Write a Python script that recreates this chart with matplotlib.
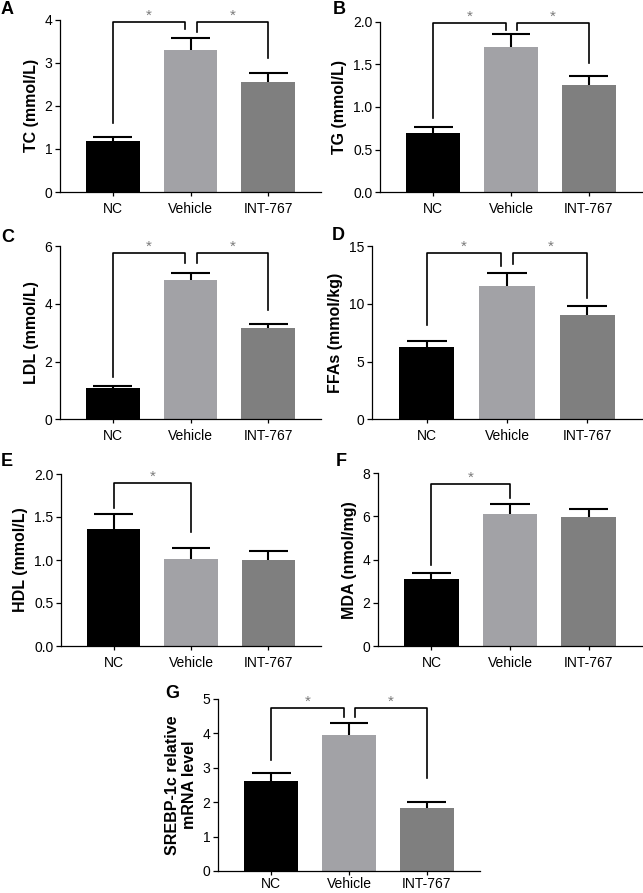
import matplotlib
matplotlib.use("Agg")
import matplotlib.pyplot as plt

plt.rcParams['font.family'] = ['Liberation Sans', 'DejaVu Sans']

W, H = 643, 893

groups = ["NC", "Vehicle", "INT-767"]
bar_colors = ["#000000", "#a2a2a6", "#7f7f7f"]

tc_mean = [1.18, 3.30, 2.55]
tc_err = [0.09, 0.27, 0.20]
tg_mean = [0.70, 1.70, 1.26]
tg_err = [0.06, 0.16, 0.10]
ldl_mean = [1.09, 4.82, 3.15]
ldl_err = [0.08, 0.25, 0.16]
ffa_mean = [6.23, 11.57, 9.06]
ffa_err = [0.52, 1.12, 0.75]
hdl_mean = [1.36, 1.015, 1.00]
hdl_err = [0.18, 0.125, 0.11]
mda_mean = [3.09, 6.10, 5.96]
mda_err = [0.28, 0.46, 0.39]
srebp_mean = [2.61, 3.96, 1.83]
srebp_err = [0.24, 0.34, 0.17]

# brackets: (left group, right group, top y, left leg y, right leg y)
tc_brackets = [(0, 1, 3.95, 1.60, 3.77), (1, 2, 3.95, 3.72, 3.10)]
tg_brackets = [(0, 1, 1.99, 0.87, 1.90), (1, 2, 1.99, 1.90, 1.51)]
ldl_brackets = [(0, 1, 5.77, 1.45, 5.40), (1, 2, 5.77, 5.40, 3.78)]
ffa_brackets = [(0, 1, 14.36, 8.16, 13.27), (1, 2, 14.36, 13.40, 10.47)]
hdl_brackets = [(0, 1, 1.90, 1.61, 1.33)]
mda_brackets = [(0, 1, 7.50, 3.75, 6.87)]
srebp_brackets = [(0, 1, 4.74, 3.24, 4.47), (1, 2, 4.74, 4.47, 2.70)]


def make_axes(fig, left, right, top, bottom):
    return fig.add_axes([left / W, 1 - bottom / H, (right - left) / W, (bottom - top) / H])


def draw_panel(ax, means, errs, ylabel, yticks, yfmt, brackets, xpad=4):
    x = list(range(len(groups)))
    ax.bar(x, means, width=0.69, color=bar_colors, zorder=2)
    # upper error bars only (stem + cap)
    tops = [m + e for m, e in zip(means, errs)]
    ax.vlines(x, means, tops, color='black', lw=1.5, zorder=3)
    ax.hlines(tops, [i - 0.25 for i in x], [i + 0.25 for i in x], color='black', lw=1.5, zorder=3)
    ax.set_xlim(-0.68, 2.68)
    ax.set_ylim(yticks[0], yticks[-1])
    ax.set_yticks(yticks)
    ax.set_yticklabels([yfmt.format(t) for t in yticks])
    ax.set_xticks(x)
    ax.set_xticklabels(groups)
    ax.set_ylabel(ylabel, fontsize=11.5, fontweight='bold', labelpad=4)
    for s in ['top', 'right']:
        ax.spines[s].set_visible(False)
    for s in ['left', 'bottom']:
        ax.spines[s].set_linewidth(0.9)
    ax.tick_params(axis='both', labelsize=10, width=0.9, length=3.5, pad=2)
    ax.tick_params(axis='x', length=3, pad=xpad)

    shared = len(brackets) > 1
    for i, j, ytop, yl, yr in brackets:
        xl, xr = float(i), float(j)
        if shared and j == 1:
            xr -= 0.07
        if shared and i == 1:
            xl += 0.08
        ax.plot([xl, xl, xr, xr], [yl, ytop, ytop, yr], color='black', lw=1.2,
                clip_on=False, zorder=4)
        ax.annotate('*', xy=((xl + xr) / 2, ytop), xytext=(0, 4.5), textcoords='offset points',
                    ha='center', va='center', fontsize=11, color='#7a7a7a',
                    annotation_clip=False)


fig = plt.figure(figsize=(W / 100, H / 100), dpi=100)

ax_a = make_axes(fig, 60, 321, 19.5, 192)
draw_panel(ax_a, tc_mean, tc_err, "TC (mmol/L)", [0, 1, 2, 3, 4], "{:.0f}", tc_brackets)
ax_b = make_axes(fig, 380, 642, 21.7, 192.3)
draw_panel(ax_b, tg_mean, tg_err, "TG (mmol/L)", [0.0, 0.5, 1.0, 1.5, 2.0], "{:.1f}", tg_brackets)
ax_c = make_axes(fig, 60, 321, 246, 419.3)
draw_panel(ax_c, ldl_mean, ldl_err, "LDL (mmol/L)", [0, 2, 4, 6], "{:.0f}", ldl_brackets)
ax_d = make_axes(fig, 372, 642, 246, 419.3)
draw_panel(ax_d, ffa_mean, ffa_err, "FFAs (mmol/kg)", [0, 5, 10, 15], "{:.0f}", ffa_brackets)
ax_e = make_axes(fig, 61, 321, 474, 646)
draw_panel(ax_e, hdl_mean, hdl_err, "HDL (mmol/L)", [0.0, 0.5, 1.0, 1.5, 2.0], "{:.1f}", hdl_brackets)
ax_f = make_axes(fig, 378, 642, 473.3, 646)
draw_panel(ax_f, mda_mean, mda_err, "MDA (nmol/mg)", [0, 2, 4, 6, 8], "{:.0f}", mda_brackets)
ax_g = make_axes(fig, 218, 480, 699, 871)
draw_panel(ax_g, srebp_mean, srebp_err, "SREBP-1c relative\nmRNA level", [0, 1, 2, 3, 4, 5], "{:.0f}",
           srebp_brackets, xpad=1.5)

letters = [("A", 1, 10), ("B", 333, 10), ("C", 1, 238), ("D", 332, 236),
           ("E", 1, 462), ("F", 336, 462), ("G", 165, 693)]
for txt, px, py in letters:
    fig.text(px / W, 1 - py / H, txt, fontsize=13, fontweight='bold', ha='left', va='center')

fig.savefig("out.png", dpi=100)
